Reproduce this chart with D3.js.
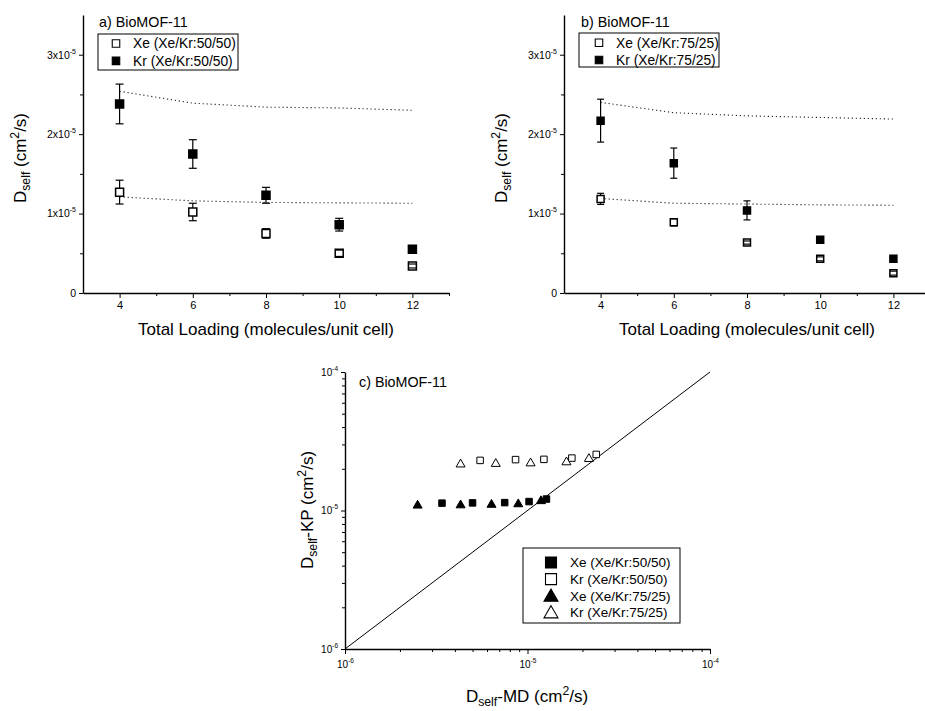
<!DOCTYPE html>
<html>
<head>
<meta charset="utf-8">
<script src="https://cdn.jsdelivr.net/npm/d3@7"></script>
<style>
  html, body { margin: 0; padding: 0; background: #fff; }
  svg { display: block; font-family: 'Liberation Sans', Arial, Helvetica, sans-serif; }
</style>
</head>
<body>
<svg id="chart" width="925" height="711"></svg>
<script>
// Total loading (molecules / unit cell)
const loadings = [4, 6, 8, 10, 12];

// Xe/Kr 50/50 mixture, self-diffusivities in units of 1e-5 cm2/s
const mdXe5050  = [1.27, 1.02, 0.75, 0.50, 0.34];
const errXe5050 = [0.15, 0.11, 0.06, 0.04, 0.025];
const mdKr5050  = [2.38, 1.75, 1.23, 0.86, 0.55];
const errKr5050 = [0.25, 0.18, 0.10, 0.08, 0.03];
const kpXe5050  = [1.21, 1.16, 1.14, 1.135, 1.13];
const kpKr5050  = [2.54, 2.39, 2.34, 2.33, 2.30];

// Xe/Kr 75/25 mixture, self-diffusivities in units of 1e-5 cm2/s
const mdXe7525  = [1.185, 0.89, 0.635, 0.43, 0.25];
const errXe7525 = [0.07, 0.045, 0.02, 0.025, 0.025];
const mdKr7525  = [2.17, 1.635, 1.04, 0.67, 0.43];
const errKr7525 = [0.27, 0.19, 0.12, 0.04, 0.02];
const kpXe7525  = [1.19, 1.13, 1.12, 1.11, 1.105];
const kpKr7525  = [2.40, 2.27, 2.23, 2.21, 2.19];

const UNIT = 1e-5;

// Tick values
const loadingTicks      = [4, 6, 8, 10, 12];
const loadingMinorTicks = [5, 7, 9, 11, 13];
const dTicks            = [0, 1, 2, 3];
const dMinorTicks       = [0.5, 1.5, 2.5];
const logTicks          = [1e-6, 1e-5, 1e-4];
const logMinorTicks     = [2e-6, 3e-6, 4e-6, 5e-6, 6e-6, 7e-6, 8e-6, 9e-6,
                           2e-5, 3e-5, 4e-5, 5e-5, 6e-5, 7e-5, 8e-5, 9e-5];
const parityLine        = [1e-6, 1e-4];

const svg = d3.select("#chart");
svg.append("rect").attr("width", 925).attr("height", 711).attr("fill", "#fff");

const squarePath   = s => d3.symbol().type(d3.symbolSquare).size(s * s)();
const trianglePath = s => d3.symbol().type(d3.symbolTriangle).size(Math.sqrt(3) / 4 * s * s)();

function styleAxis(g, fs) {
  g.attr("font-family", null).attr("font-size", fs);
  g.select(".domain").attr("stroke", "#000").attr("stroke-width", 1.4);
  g.selectAll(".tick line").attr("stroke", "#000").attr("stroke-width", 1);
  g.selectAll(".tick text").attr("fill", "#000");
}

function powerLabel(text, base, exp, supSize) {
  text.text(null);
  text.append("tspan").text(base);
  text.append("tspan").attr("dy", -5).attr("font-size", supSize).text(exp);
}

// "D_self<mid> (cm^2/s)" with sub/superscripts
function diffTitle(g, tx, ty, rotated, mid, fs) {
  const t = g.append("text")
    .attr("transform", `translate(${tx},${ty})` + (rotated ? " rotate(-90)" : ""))
    .attr("text-anchor", "middle").attr("font-size", fs).attr("fill", "#000");
  t.append("tspan").text("D");
  t.append("tspan").attr("dy", 4).attr("font-size", fs * 0.72).text("self");
  t.append("tspan").attr("dy", -4).text(mid + " (cm");
  t.append("tspan").attr("dy", -7).attr("font-size", fs * 0.72).text("2");
  t.append("tspan").attr("dy", 7).text("/s)");
}

function legendBox(g, box, items, fs) {
  g.append("rect").attr("x", box.x).attr("y", box.y).attr("width", box.w).attr("height", box.h)
    .attr("fill", "#fff").attr("stroke", "#000").attr("stroke-width", 1);
  items.forEach((it, i) => {
    const cy = box.row0 + i * box.dy;
    g.append("path").attr("d", it.shape === "triangle" ? trianglePath(it.size) : squarePath(it.size))
      .attr("transform", `translate(${box.sx},${cy + (it.shape === "triangle" ? 1.5 : 0)})`)
      .attr("fill", it.filled ? "#000" : "#fff").attr("stroke", "#000").attr("stroke-width", 1.1);
    g.append("text").attr("x", box.tx).attr("y", cy).attr("dy", "0.36em")
      .attr("font-size", fs).attr("fill", "#000").text(it.name);
  });
}

// Diffusivity vs. loading panel
function loadingPanel(p) {
  const x = d3.scaleLinear().domain([3, 13]).range([p.left, p.left + 366]);
  const y = d3.scaleLinear().domain([0, 3.5]).range([293, 15]);
  const g = svg.append("g");

  const gx = g.append("g").attr("transform", `translate(0,${y(0)})`)
    .call(d3.axisBottom(x).tickValues(loadingTicks).tickSize(5).tickSizeOuter(0)
      .tickPadding(3).tickFormat(d3.format("d")));
  styleAxis(gx, 11);
  const gxm = g.append("g").attr("transform", `translate(0,${y(0)})`)
    .call(d3.axisBottom(x).tickValues(loadingMinorTicks).tickSize(3).tickFormat(""));
  gxm.select(".domain").remove();
  styleAxis(gxm, 11);

  const gy = g.append("g").attr("transform", `translate(${x(3)},0)`)
    .call(d3.axisLeft(y).tickValues(dTicks).tickSize(4).tickSizeOuter(0).tickPadding(3));
  styleAxis(gy, 10.5);
  gy.selectAll(".tick text").each(function (d) {
    const t = d3.select(this);
    if (d === 0) t.text("0"); else powerLabel(t, d + "x10", "-5", 7);
  });
  const gym = g.append("g").attr("transform", `translate(${x(3)},0)`)
    .call(d3.axisLeft(y).tickValues(dMinorTicks).tickSize(3).tickFormat(""));
  gym.select(".domain").remove();
  styleAxis(gym, 10);

  // Kinetic-theory predictions (dotted)
  const line = d3.line().x((d, i) => x(loadings[i])).y(d => y(d));
  p.series.forEach(s => {
    g.append("path").attr("d", line(s.kp)).attr("fill", "none")
      .attr("stroke", "#222").attr("stroke-width", 1.1).attr("stroke-dasharray", "1.2,2.8");
  });

  // MD results with error bars
  p.series.forEach(s => {
    const pts = loadings.map((L, i) => ({ L, v: s.md[i], e: s.err[i] }));
    g.selectAll(null).data(pts).join("line")
      .attr("x1", d => x(d.L)).attr("x2", d => x(d.L))
      .attr("y1", d => y(d.v - d.e)).attr("y2", d => y(d.v + d.e))
      .attr("stroke", "#000").attr("stroke-width", 1.2);
    g.selectAll(null).data(pts).join("path")
      .attr("d", squarePath(p.marker))
      .attr("transform", d => `translate(${x(d.L)},${y(d.v)})`)
      .attr("fill", s.filled ? "#000" : "#fff").attr("stroke", "#000").attr("stroke-width", 1.5);
    [-1, 1].forEach(sign => {
      g.selectAll(null).data(pts).join("line")
        .attr("x1", d => x(d.L) - p.cap).attr("x2", d => x(d.L) + p.cap)
        .attr("y1", d => y(d.v + sign * d.e)).attr("y2", d => y(d.v + sign * d.e))
        .attr("stroke", "#000").attr("stroke-width", 1.2);
    });
  });

  g.append("text").attr("x", p.titleX).attr("y", 27).attr("font-size", 14.3)
    .attr("fill", "#000").text(p.title);
  legendBox(g, p.legend, p.series.map(s => ({ name: s.name, filled: s.filled, shape: "square", size: 7.5 })), 13.8);

  diffTitle(g, p.left - 57, 158, true, "", 17);
  g.append("text").attr("x", (x(3) + x(13)) / 2).attr("y", 335).attr("text-anchor", "middle")
    .attr("font-size", 17).attr("fill", "#000").text("Total Loading (molecules/unit cell)");
}

loadingPanel({
  left: 83, title: "a) BioMOF-11", titleX: 99, marker: 8, cap: 4,
  legend: { x: 98, y: 34, w: 140, h: 36, sx: 116, tx: 133, row0: 43.5, dy: 17.4 },
  series: [
    { name: "Xe (Xe/Kr:50/50)", md: mdXe5050, err: errXe5050, kp: kpXe5050, filled: false },
    { name: "Kr (Xe/Kr:50/50)", md: mdKr5050, err: errKr5050, kp: kpKr5050, filled: true }
  ]
});

loadingPanel({
  left: 564, title: "b) BioMOF-11", titleX: 581, marker: 7, cap: 3.5,
  legend: { x: 579, y: 33, w: 140, h: 34, sx: 599, tx: 616, row0: 42.7, dy: 17.3 },
  series: [
    { name: "Xe (Xe/Kr:75/25)", md: mdXe7525, err: errXe7525, kp: kpXe7525, filled: false },
    { name: "Kr (Xe/Kr:75/25)", md: mdKr7525, err: errKr7525, kp: kpKr7525, filled: true }
  ]
});

// Kinetic-theory vs. MD parity plot
(function parityPanel() {
  const x = d3.scaleLog().domain([1e-6, 1e-4]).range([345, 710]);
  const y = d3.scaleLog().domain([1e-6, 1e-4]).range([649, 372]);
  const g = svg.append("g");

  const gx = g.append("g").attr("transform", `translate(0,${y(1e-6)})`)
    .call(d3.axisBottom(x).tickValues(logTicks).tickSize(5).tickSizeOuter(0).tickPadding(7));
  styleAxis(gx, 10);
  gx.selectAll(".tick text").each(function (d) {
    powerLabel(d3.select(this), "10", String(Math.round(Math.log10(d))), 6.5);
  });
  const gxm = g.append("g").attr("transform", `translate(0,${y(1e-6)})`)
    .call(d3.axisBottom(x).tickValues(logMinorTicks).tickSize(3).tickFormat(""));
  gxm.select(".domain").remove();
  styleAxis(gxm, 10);

  const gy = g.append("g").attr("transform", `translate(${x(1e-6)},0)`)
    .call(d3.axisLeft(y).tickValues(logTicks).tickSize(4).tickSizeOuter(0).tickPadding(3));
  styleAxis(gy, 10);
  gy.selectAll(".tick text").each(function (d) {
    powerLabel(d3.select(this), "10", String(Math.round(Math.log10(d))), 6.5);
  });
  const gym = g.append("g").attr("transform", `translate(${x(1e-6)},0)`)
    .call(d3.axisLeft(y).tickValues(logMinorTicks).tickSize(3).tickFormat(""));
  gym.select(".domain").remove();
  styleAxis(gym, 10);

  // y = x
  g.append("path").attr("d", d3.line().x(d => x(d)).y(d => y(d))(parityLine))
    .attr("fill", "none").attr("stroke", "#000").attr("stroke-width", 1);

  const series = [
    { name: "Xe (Xe/Kr:50/50)", md: mdXe5050, kp: kpXe5050, shape: "square",   filled: true },
    { name: "Kr (Xe/Kr:50/50)", md: mdKr5050, kp: kpKr5050, shape: "square",   filled: false },
    { name: "Xe (Xe/Kr:75/25)", md: mdXe7525, kp: kpXe7525, shape: "triangle", filled: true },
    { name: "Kr (Xe/Kr:75/25)", md: mdKr7525, kp: kpKr7525, shape: "triangle", filled: false }
  ];
  series.forEach(s => {
    const pts = s.md.map((v, i) => ({ md: v * UNIT, kp: s.kp[i] * UNIT }));
    g.selectAll(null).data(pts).join("path")
      .attr("d", s.shape === "triangle" ? trianglePath(9) : squarePath(6.5))
      .attr("transform", d => `translate(${x(d.md)},${y(d.kp) + (s.shape === "triangle" ? 1 : 0)})`)
      .attr("fill", s.filled ? "#000" : "#fff").attr("stroke", "#000").attr("stroke-width", 1);
  });

  g.append("text").attr("x", 359).attr("y", 387).attr("font-size", 14.3).attr("fill", "#000").text("c) BioMOF-11");
  legendBox(g, { x: 523, y: 548, w: 157, h: 75, sx: 551, tx: 570, row0: 562.5, dy: 16.6 },
    series.map(s => ({ name: s.name, filled: s.filled, shape: s.shape, size: s.shape === "triangle" ? 14 : 11 })), 13.5);

  diffTitle(g, 313, 510, true, "-KP", 17);
  diffTitle(g, 527, 702, false, "-MD", 17);
})();
</script>
</body>
</html>
